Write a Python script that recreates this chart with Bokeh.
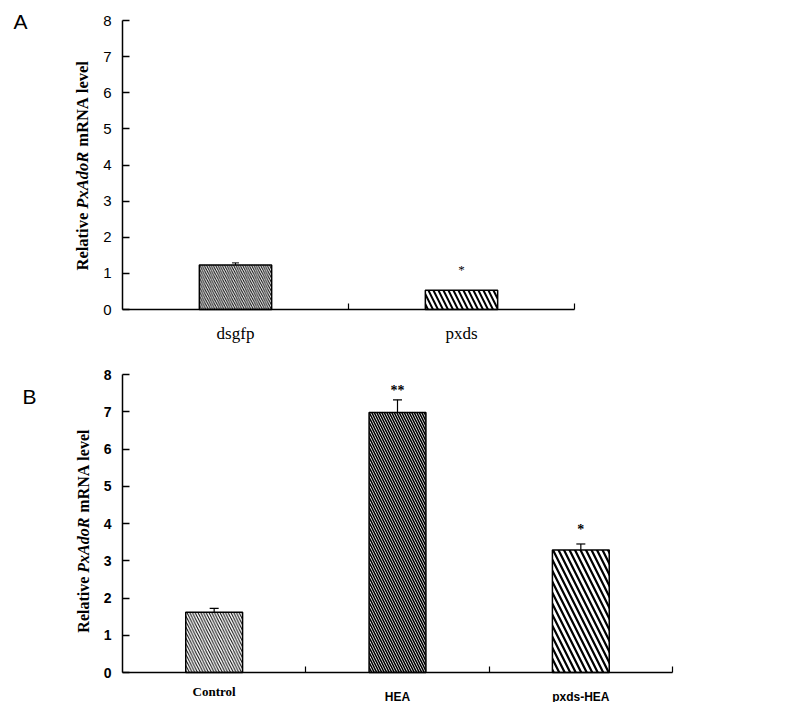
from bokeh.plotting import figure
from bokeh.models import Range1d, FixedTicker, Label, ColumnDataSource, Whisker, TeeHead
from bokeh.layouts import column
from bokeh.embed import file_html
from bokeh.resources import INLINE
from bokeh.core.properties import value
import math

# ---------------- data ----------------
a_categories = ["dsgfp", "pxds"]
a_values = [1.23, 0.53]
a_errors = [0.06, 0.0]
a_sig = ["", "*"]

b_categories = ["Control", "HEA", "pxds-HEA"]
b_values = [1.62, 6.98, 3.29]
b_errors = [0.10, 0.34, 0.16]
b_sig = ["", "**", "*"]

y_ticks = [0, 1, 2, 3, 4, 5, 6, 7, 8]

SERIF = "Liberation Serif"
SANS = "Liberation Sans"
W = 788


def base_fig(n, height, ax_left, ax_right, ax_top, ax_bottom, tick_bold):
    """Frame fills the canvas; axes are pinned at 0 and bounded.
    ax_* are the pixel positions (in figure coords) of the axis box."""
    xs = n / (ax_right - ax_left)
    ys = 8.0 / (ax_bottom - ax_top)
    x_range = Range1d(-ax_left * xs, n + (W - ax_right) * xs)
    y_range = Range1d(-(height - ax_bottom) * ys, 8 + ax_top * ys)
    p = figure(width=W, height=height, output_backend="svg", toolbar_location=None,
               title=None, x_range=x_range, y_range=y_range,
               min_border=0, min_border_left=0, min_border_right=0,
               min_border_top=0, min_border_bottom=0)
    p.outline_line_color = None
    p.xgrid.visible = False
    p.ygrid.visible = False
    p.background_fill_color = "white"
    p.border_fill_color = "white"
    # y axis
    p.yaxis.fixed_location = 0
    p.yaxis.bounds = (0, 8)
    p.yaxis.ticker = FixedTicker(ticks=y_ticks, minor_ticks=[])
    p.yaxis.major_tick_in = 7
    p.yaxis.major_tick_out = 0
    p.yaxis.minor_tick_line_color = None
    p.yaxis.axis_line_width = 1.5
    p.yaxis.major_tick_line_width = 1.5
    p.yaxis.axis_line_color = "black"
    p.yaxis.major_tick_line_color = "black"
    p.yaxis.major_label_text_font = SANS
    p.yaxis.major_label_text_color = "black"
    p.yaxis.major_label_standoff = 11
    if tick_bold:
        p.yaxis.major_label_text_font_style = "bold"
        p.yaxis.major_label_text_font_size = "14px"
    else:
        p.yaxis.major_label_text_font_size = "15px"
    # x axis: ticks at category boundaries, pointing inward
    p.xaxis.fixed_location = 0
    p.xaxis.bounds = (0, n)
    p.xaxis.ticker = FixedTicker(ticks=[], minor_ticks=list(range(1, n + 1)))
    p.xaxis.minor_tick_in = 6
    p.xaxis.minor_tick_out = 0
    p.xaxis.minor_tick_line_width = 1.2
    p.xaxis.minor_tick_line_color = "black"
    p.xaxis.major_tick_line_color = None
    p.xaxis.major_label_text_font_size = "0px"
    p.xaxis.axis_line_width = 1.5
    p.xaxis.axis_line_color = "black"
    return p


def ylabel(p, x_off, y_start, size):
    # (text, style, advance in em including the following space)
    parts = [("Relative", "bold", 3.749), ("PxAdoR", "bold italic", 3.75), ("mRNA", "bold", 3.25),
             ("level", "bold", 2.0)]
    off = 0.0
    for txt, style, adv in parts:
        p.add_layout(Label(x=0, y=y_start, x_offset=x_off, y_offset=off, text=txt,
                           angle=math.pi / 2, text_align="left", text_baseline="middle",
                           text_font=SERIF, text_font_style=style,
                           text_font_size=f"{size}px", text_color="black"))
        off += adv * size


# ---------------- panel A (page y 0..353) ----------------
pa = base_fig(len(a_categories), 353, 122, 574, 20, 309, False)
xa = [i + 0.5 for i in range(len(a_categories))]
pa.vbar(x=xa[0], top=a_values[0], width=0.32, fill_color="white", line_color="black",
        line_width=1.5, hatch_pattern="\\", hatch_scale=4.5, hatch_weight=1, hatch_color="black")
pa.vbar(x=xa[1], top=a_values[1], width=0.32, fill_color="white", line_color="black",
        line_width=1.5, hatch_pattern="\\", hatch_scale=10, hatch_weight=2, hatch_color="black")
src_a = ColumnDataSource(dict(x=xa[:1], up=[a_values[0] + a_errors[0]], lo=[a_values[0] - a_errors[0]]))
pa.add_layout(Whisker(source=src_a, base="x", upper="up", lower="lo", line_color="black", line_width=1,
                      upper_head=TeeHead(size=7, line_color="black", line_width=1),
                      lower_head=TeeHead(size=7, line_color="black", line_width=1)))
pa.text(x=[xa[1]], y=[a_values[1] + 0.57], text=[a_sig[1]], text_font=value(SERIF),
        text_font_size="13px", text_align="center", text_baseline="middle", text_color="black")
for x, c in zip(xa, a_categories):
    pa.add_layout(Label(x=x, y=0, y_offset=-24, text=c, text_align="center", text_baseline="middle",
                        text_font=SERIF, text_font_size="17px", text_color="black"))
ylabel(pa, -40, 1.08, 16.5)
pa.add_layout(Label(x=0, y=8, x_offset=-109, y_offset=11, text="A", text_align="left",
                    text_baseline="top", text_font=SANS, text_font_size="21px", text_color="black"))

# ---------------- panel B (page y 353..702) ----------------
pb = base_fig(len(b_categories), 349, 122, 672, 21, 319, True)
xb = [i + 0.5 for i in range(len(b_categories))]
styles = [dict(hatch_scale=5.5, hatch_weight=1.0), dict(hatch_scale=5, hatch_weight=1.6),
          dict(hatch_scale=11, hatch_weight=2.2)]
for x, v, st in zip(xb, b_values, styles):
    pb.vbar(x=x, top=v, width=0.31, fill_color="white", line_color="black", line_width=1.5,
            hatch_pattern="\\", hatch_color="black", **st)
src_b = ColumnDataSource(dict(x=xb, up=[v + e for v, e in zip(b_values, b_errors)],
                              lo=[v - e for v, e in zip(b_values, b_errors)]))
pb.add_layout(Whisker(source=src_b, base="x", upper="up", lower="lo", line_color="black", line_width=1.2,
                      upper_head=TeeHead(size=9, line_color="black", line_width=1.2), lower_head=None))
pb.text(x=xb[1:], y=[b_values[1] + 0.58, b_values[2] + 0.54], text=b_sig[1:], text_font=value(SERIF),
        text_font_style="bold", text_font_size="14px", text_align="center", text_baseline="middle",
        text_color="black")
lab_fonts = [(SERIF, "13px", -19), (SANS, "12px", -24), (SANS, "12px", -24)]
for x, c, (f, s, yo) in zip(xb, b_categories, lab_fonts):
    pb.add_layout(Label(x=x, y=0, y_offset=yo, text=c, text_align="center", text_baseline="middle",
                        text_font=f, text_font_style="bold", text_font_size=s, text_color="black"))
ylabel(pb, -39, 1.07, 16)
pb.add_layout(Label(x=0, y=8, x_offset=-100, y_offset=-10, text="B", text_align="left",
                    text_baseline="top", text_font=SANS, text_font_size="21px", text_color="black"))

layout = column(pa, pb, spacing=0)
open("out.html", "w").write(file_html(layout, INLINE))
